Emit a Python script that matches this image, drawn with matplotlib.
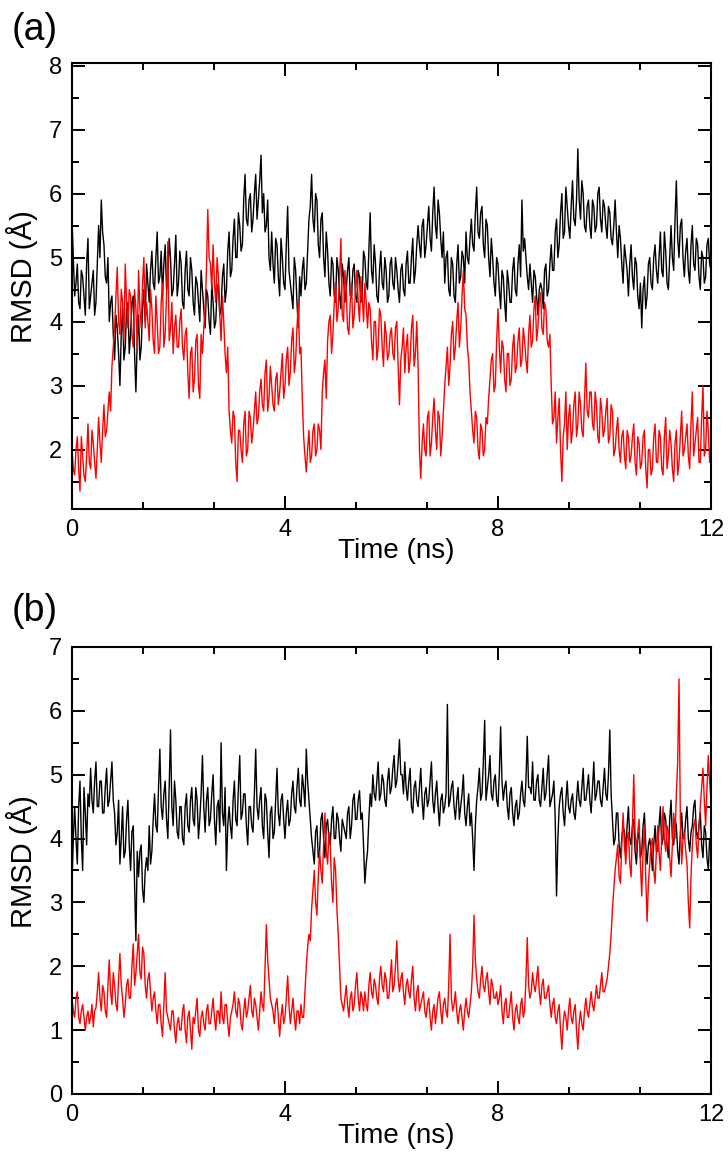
import numpy as np
import matplotlib
matplotlib.use("Agg")
import matplotlib.pyplot as plt
from matplotlib.ticker import MultipleLocator

plt.rcParams['font.family'] = ['Liberation Sans', 'DejaVu Sans']

# RMSD traces, one value every 0.05 ns (0 .. 12 ns)
a_black = [
    5.6, 4.4, 4.9, 4.2, 4.7, 4.1, 5.3, 4.4, 4.8, 4.3,
    5.5, 5.9, 5.2, 4.6, 4.0, 4.4, 3.4, 3.9, 3.0, 4.2,
    3.6, 4.3, 3.8, 4.4, 2.9, 4.1, 3.6, 4.5, 4.9, 4.3,
    5.1, 4.5, 5.4, 4.7, 4.4, 5.2, 4.6, 5.0, 4.5, 5.35,
    4.6, 4.9, 4.2, 5.1, 4.4, 4.8, 4.1, 4.6, 4.0, 4.5,
    3.9, 4.4, 3.8, 4.3, 4.0, 4.6, 4.2, 4.9, 4.5, 5.4,
    4.8, 5.6, 5.0, 5.5, 5.2, 6.3, 5.5, 6.0, 5.6, 6.3,
    5.9, 6.6, 6.0, 5.5, 5.0, 5.4, 4.6, 5.2, 4.4, 5.0,
    4.5, 5.8, 4.6, 4.2, 4.8, 3.9, 4.4, 5.0, 4.6, 5.6,
    6.3, 5.4, 5.9, 5.0, 5.7, 4.7, 5.1, 4.4, 4.9, 4.3,
    4.8, 4.2, 4.7, 4.5, 5.0, 4.4, 4.9, 4.3, 4.7, 4.4,
    5.0, 4.5, 5.7, 4.6, 4.9, 4.3, 5.1, 4.5, 4.8, 4.4,
    5.0, 4.5, 4.8, 4.3, 4.9, 4.4, 5.1, 4.6, 5.3, 4.8,
    5.5, 5.0, 5.6, 5.2, 5.8, 5.1, 6.1, 5.3, 5.7, 5.0,
    4.6, 5.1, 4.4, 4.9, 4.3, 5.2, 4.7, 5.0, 5.4, 4.9,
    5.6, 5.1, 6.1, 5.3, 5.8, 5.0, 5.5, 4.7, 5.0, 4.4,
    4.9, 4.2, 4.7, 4.0, 4.6, 4.3, 5.0, 4.4, 5.2, 5.9,
    5.3, 4.7, 4.9, 4.3, 4.7, 4.1, 4.6, 4.2, 4.9, 4.5,
    5.2, 4.8, 5.6, 5.2, 6.0, 5.4, 5.8, 5.3, 6.2, 5.5,
    6.7, 5.6, 6.0, 5.4, 5.9, 5.3, 5.8, 5.5, 6.1, 5.4,
    5.8, 5.3, 5.7, 5.2, 5.9, 5.0, 5.3, 4.6, 5.0, 4.4,
    5.2, 4.5, 4.9, 4.2, 3.9, 4.7, 4.4, 5.0, 4.5, 5.2,
    4.6, 5.4, 4.7, 5.1, 4.5, 5.5, 4.8, 6.2, 5.0, 5.6,
    4.7, 5.3, 4.6, 5.5, 4.8, 5.2, 4.5, 5.0, 4.7, 5.3,
    4.8,
]
# values in between (t = 0.025 + 0.05 k)
a_black_mid = [
    5.0, 4.6, 4.3, 4.8, 4.4, 4.9, 4.2, 4.6, 4.1, 4.9,
    5.0, 5.4, 4.7, 5.0, 4.3, 3.8, 4.1, 3.5, 3.8, 3.4,
    4.2, 3.5, 4.3, 3.5, 3.7, 3.4, 4.2, 4.0, 4.6, 4.8,
    4.6, 5.0, 4.6, 5.1, 4.9, 4.5, 5.3, 4.4, 4.9, 4.4,
    5.1, 4.3, 4.8, 4.5, 5.0, 4.3, 4.7, 4.3, 4.8, 4.2,
    4.5, 4.0, 4.6, 3.9, 4.5, 4.1, 4.7, 4.3, 5.1, 4.7,
    5.3, 5.0, 5.7, 5.1, 5.9, 5.6, 5.9, 5.4, 6.0, 5.6,
    6.2, 5.7, 5.4, 5.9, 4.8, 4.9, 5.3, 4.7, 5.3, 4.6,
    5.2, 4.8, 4.4, 5.0, 4.3, 4.7, 4.8, 4.5, 5.1, 5.8,
    5.6, 6.0, 5.2, 5.6, 5.0, 5.4, 4.6, 5.0, 4.4, 5.0,
    4.4, 4.9, 4.3, 4.8, 4.4, 4.8, 4.4, 4.8, 4.3, 5.1,
    4.6, 5.1, 4.8, 5.2, 4.4, 4.8, 4.6, 5.0, 4.3, 4.9,
    4.6, 5.0, 4.5, 4.8, 4.5, 4.9, 4.6, 5.0, 4.6, 5.2,
    5.2, 5.5, 5.0, 5.5, 5.3, 5.7, 5.5, 5.9, 5.3, 5.4,
    5.0, 4.5, 5.0, 4.4, 4.9, 4.6, 5.1, 4.6, 5.0, 5.3,
    5.2, 5.7, 5.4, 5.7, 5.2, 5.6, 5.0, 5.3, 4.6, 5.0,
    4.5, 4.8, 4.3, 4.8, 4.3, 4.8, 4.5, 4.9, 4.7, 5.1,
    5.0, 4.5, 4.6, 4.8, 4.4, 4.5, 4.5, 4.8, 4.4, 4.9,
    4.8, 5.4, 5.0, 5.7, 5.3, 6.1, 5.5, 5.8, 5.6, 5.9,
    5.9, 6.2, 5.5, 5.8, 5.5, 5.9, 5.4, 6.0, 5.6, 5.9,
    5.5, 5.8, 5.3, 5.5, 5.4, 5.5, 4.9, 5.2, 4.8, 4.9,
    4.7, 5.0, 4.4, 4.6, 4.5, 4.2, 4.9, 4.6, 5.0, 4.8,
    5.0, 4.8, 5.4, 4.6, 5.0, 5.0, 5.6, 5.3, 5.5, 5.0,
    5.1, 4.8, 5.2, 4.9, 5.3, 4.7, 5.1, 4.6, 5.2, 4.9,
]
a_red = [
    2.0, 1.6, 2.2, 1.35, 1.9, 1.5, 2.4, 1.7, 2.1, 1.55,
    2.5, 1.8, 2.7, 2.3, 2.9, 3.3, 3.9, 4.85, 3.8, 4.3,
    4.9, 3.9, 4.4, 3.6, 4.2, 4.8, 3.9, 5.0, 4.3, 3.7,
    4.2, 3.5, 4.0, 3.6, 4.6, 3.8, 5.25, 3.9, 3.5, 4.1,
    3.6, 4.2, 3.4, 3.9, 2.8, 3.6, 3.1, 3.8, 2.8, 3.5,
    4.2, 5.75, 4.9, 5.2, 4.3, 4.7, 3.7, 4.0, 3.2, 2.6,
    2.1, 2.5, 1.5, 2.3, 1.8, 2.6, 2.0, 2.5, 2.3, 2.9,
    2.5, 3.1, 2.6, 3.4, 2.8, 3.0, 2.6, 3.2, 2.9, 3.5,
    3.0, 3.6, 3.2, 3.9, 3.4, 4.3, 3.6, 2.2, 1.65, 2.3,
    1.9, 2.4, 2.0, 2.3, 2.9, 3.4, 3.7, 4.1, 3.8, 4.6,
    4.2, 5.3, 4.0, 4.5, 3.8, 4.6, 4.1, 4.8, 4.0, 4.4,
    4.6, 3.9, 4.2, 3.4, 4.0, 3.6, 4.1, 3.3, 3.8, 3.5,
    3.9, 3.4, 4.0, 2.7, 3.6, 3.2, 3.8, 3.4, 4.1, 3.5,
    3.3, 1.55, 2.4, 1.9, 2.6, 2.1, 2.8, 2.0, 2.5, 2.2,
    3.0, 3.6, 3.3, 4.0, 3.6, 4.3, 3.9, 4.8, 4.1, 3.4,
    2.6, 2.1, 2.5, 1.85, 2.3, 2.0, 2.4, 3.1, 3.5, 3.0,
    4.2, 3.2, 3.6, 2.9, 3.5, 3.1, 3.8, 3.3, 3.9, 3.4,
    3.7, 3.2, 4.1, 3.7, 4.4, 3.9, 4.45, 3.8, 4.2, 3.6,
    3.0, 2.5, 2.1, 2.8, 1.5, 2.4, 2.0, 2.7, 2.3, 2.9,
    2.4, 2.7, 2.2, 3.35, 2.5, 2.9, 2.3, 2.7, 2.1, 2.6,
    2.3, 2.8, 2.2, 2.6, 2.0, 2.5, 1.8, 2.3, 1.7, 2.2,
    1.9, 2.4, 1.6, 2.1, 1.8, 2.3, 1.4, 2.0, 1.7, 2.4,
    1.8, 2.2, 1.6, 2.5, 1.9, 2.1, 1.5, 2.3, 1.8, 2.6,
    2.0, 2.4, 1.7, 2.9, 2.1, 2.5, 1.8, 3.0, 2.0, 2.3,
    2.1,
]
a_red_mid = [
    1.7, 2.0, 1.7, 2.2, 1.6, 1.9, 1.8, 2.3, 1.8, 2.0,
    2.1, 2.3, 2.2, 2.6, 2.6, 3.6, 4.4, 4.0, 4.5, 3.7,
    4.3, 4.5, 3.8, 4.5, 3.6, 4.2, 4.6, 3.9, 4.0, 4.5,
    3.7, 4.4, 3.5, 4.3, 3.6, 4.4, 3.7, 4.3, 3.9, 3.6,
    4.0, 3.6, 3.8, 3.2, 3.5, 2.9, 3.7, 3.0, 3.8, 3.9,
    4.8, 5.0, 4.5, 4.6, 5.0, 4.1, 4.4, 3.5, 3.6, 2.3,
    2.6, 1.8, 2.3, 2.0, 2.4, 1.9, 2.6, 2.1, 2.6, 2.4,
    2.9, 2.7, 3.2, 2.6, 3.3, 2.7, 3.1, 2.7, 3.2, 2.8,
    3.4, 3.0, 3.7, 3.2, 3.9, 3.5, 2.8, 1.9, 2.0, 1.8,
    2.3, 1.9, 2.4, 2.0, 3.2, 2.8, 4.0, 3.5, 4.3, 4.0,
    4.7, 4.1, 4.8, 3.9, 4.3, 3.9, 4.5, 4.3, 4.7, 4.0,
    4.3, 4.3, 3.7, 4.0, 3.4, 4.2, 3.6, 4.0, 3.4, 3.8,
    3.5, 3.9, 3.3, 3.4, 3.9, 3.6, 3.2, 3.9, 3.3, 4.0,
    2.0, 2.1, 2.0, 2.5, 1.9, 2.5, 2.3, 2.6, 1.9, 2.6,
    3.3, 3.0, 3.8, 3.4, 4.0, 3.6, 4.4, 4.2, 3.6, 2.9,
    2.3, 2.6, 2.0, 2.4, 1.9, 2.5, 2.8, 3.4, 2.9, 3.7,
    3.6, 3.7, 3.1, 3.5, 3.0, 3.6, 3.2, 3.7, 3.3, 3.9,
    3.4, 3.8, 3.6, 4.2, 3.7, 4.3, 3.9, 4.3, 3.7, 3.8,
    2.4, 2.9, 2.5, 2.0, 2.2, 2.9, 2.5, 2.1, 2.7, 2.2,
    2.9, 2.3, 2.8, 2.6, 2.9, 2.4, 2.9, 2.2, 2.8, 2.2,
    2.6, 2.1, 2.7, 1.9, 2.3, 2.0, 2.2, 1.9, 2.3, 1.8,
    2.2, 1.8, 2.2, 1.7, 2.2, 1.7, 2.0, 1.6, 2.2, 1.8,
    2.3, 1.7, 2.2, 1.7, 2.3, 1.7, 2.1, 1.6, 2.2, 1.9,
    2.2, 1.9, 2.4, 1.9, 2.3, 1.8, 2.5, 1.9, 2.6, 1.8,
]
b_black = [
    3.3, 4.5, 3.6, 4.9, 3.5, 4.4, 4.7, 5.1, 4.4, 5.2,
    4.5, 4.9, 4.4, 5.1, 4.6, 5.2, 4.4, 4.1, 3.6, 4.5,
    3.8, 4.6, 3.5, 4.2, 2.4, 3.4, 3.9, 3.0, 3.7, 4.2,
    3.8, 4.7, 4.1, 5.4, 4.3, 4.9, 4.0, 5.7, 4.2, 4.6,
    4.0, 4.5, 3.9, 4.7, 4.1, 4.8, 4.2, 4.6, 4.3, 5.3,
    4.1, 4.8, 4.3, 5.0, 3.9, 4.6, 5.5, 4.2, 3.5, 4.5,
    4.0, 4.9, 4.2, 5.3, 4.4, 4.7, 3.9, 4.5, 4.1, 5.4,
    4.3, 4.8, 4.0, 4.6, 3.7, 4.5, 4.1, 5.1, 4.2, 4.7,
    4.0, 4.6, 4.3, 4.9, 4.4, 5.1, 4.5, 4.8, 5.4, 4.6,
    4.0, 3.6, 4.2, 3.8, 4.4, 3.7, 4.3, 3.9, 4.5, 4.0,
    4.3, 3.8, 4.2, 4.0, 4.5, 4.2, 4.7, 4.3, 4.75, 4.4,
    3.3, 3.8, 4.7, 5.0, 4.6, 5.2, 4.7, 4.9, 4.5, 5.1,
    4.8, 5.3, 4.9, 5.55, 5.0, 5.2, 4.6, 5.1, 4.4, 4.9,
    4.5, 5.1, 4.3, 4.8, 4.6, 5.2, 4.4, 4.9, 4.2, 4.7,
    4.5, 6.1, 4.6, 4.9, 4.3, 4.8, 4.5, 5.0, 4.2, 4.7,
    4.4, 3.5, 4.6, 5.1, 4.7, 5.85, 4.8, 5.3, 4.6, 5.0,
    4.5, 5.75, 4.6, 4.9, 4.3, 4.8, 4.2, 4.6, 4.4, 4.9,
    4.5, 5.6, 4.8, 5.2, 4.6, 5.0, 4.5, 5.1, 4.7, 5.3,
    4.6, 4.9, 3.1, 4.5, 4.8, 4.2, 4.9, 4.4, 4.7, 4.3,
    4.9, 4.5, 5.1, 4.6, 5.0, 4.4, 5.2, 4.7, 4.9, 4.5,
    5.1, 4.6, 5.7, 4.3, 4.0, 4.4, 3.7, 4.2, 3.8, 4.5,
    3.9, 4.3, 3.6, 4.1, 3.8, 4.4, 3.6, 4.0, 3.5, 4.2,
    3.8, 4.5, 4.0, 4.3, 3.7, 4.6, 3.9, 4.2, 3.6, 4.4,
    4.0, 4.5, 3.8, 4.2, 4.6, 4.0, 4.4, 3.7, 4.1, 3.5,
    3.8,
]
b_black_mid = [
    4.0, 4.0, 4.5, 4.0, 4.8, 3.9, 4.5, 4.6, 4.9, 4.5,
    4.9, 4.4, 4.8, 4.5, 4.9, 4.6, 3.9, 4.6, 4.0, 3.7,
    4.3, 3.9, 4.1, 3.3, 3.8, 3.8, 3.2, 3.5, 3.5, 3.6,
    4.3, 4.2, 4.8, 4.5, 4.7, 4.3, 4.8, 4.5, 4.9, 4.1,
    4.5, 4.0, 4.5, 4.2, 4.6, 4.3, 4.8, 4.0, 4.7, 4.5,
    4.6, 4.2, 4.7, 4.3, 4.5, 4.1, 4.4, 4.8, 4.2, 4.2,
    4.6, 4.3, 4.8, 4.3, 4.7, 4.2, 4.5, 4.2, 4.7, 4.5,
    4.6, 4.2, 4.7, 4.1, 4.4, 4.0, 4.6, 4.4, 4.6, 4.3,
    4.4, 4.2, 4.7, 4.5, 4.8, 4.6, 5.0, 4.5, 4.9, 4.3,
    3.8, 4.1, 3.7, 4.3, 4.0, 4.2, 4.0, 4.3, 4.0, 4.4,
    4.0, 4.3, 4.1, 4.4, 4.0, 4.6, 4.3, 4.6, 4.3, 3.9,
    3.6, 4.3, 4.5, 4.7, 4.9, 4.6, 5.0, 4.6, 4.9, 4.7,
    5.1, 4.8, 5.2, 5.0, 4.7, 4.8, 4.9, 4.5, 4.8, 4.6,
    4.8, 4.6, 4.7, 4.5, 4.9, 4.6, 4.7, 4.5, 4.6, 4.4,
    4.7, 4.5, 4.8, 4.5, 4.6, 4.3, 4.7, 4.4, 4.5, 4.2,
    4.0, 4.2, 4.8, 4.6, 5.2, 4.6, 5.0, 4.7, 4.9, 4.6,
    5.0, 4.9, 4.8, 4.5, 4.7, 4.4, 4.5, 4.3, 4.7, 4.6,
    4.9, 4.8, 4.7, 4.6, 4.9, 4.6, 4.8, 4.6, 5.0, 4.5,
    4.7, 4.3, 4.0, 4.7, 4.4, 4.6, 4.5, 4.6, 4.4, 4.6,
    4.6, 4.8, 4.6, 4.8, 4.6, 4.8, 4.6, 4.9, 4.6, 4.8,
    4.7, 5.0, 4.7, 3.9, 4.4, 3.9, 4.0, 4.1, 4.2, 4.0,
    4.2, 3.8, 4.0, 3.7, 4.2, 3.9, 3.9, 3.8, 3.9, 3.8,
    4.2, 3.9, 4.4, 3.9, 4.3, 4.0, 4.3, 3.8, 4.1, 4.0,
    4.3, 4.0, 4.1, 4.5, 4.1, 4.2, 3.9, 4.2, 3.7, 4.0,
]
b_red = [
    1.5, 1.2, 1.6, 1.1, 1.4, 1.0, 1.3, 1.2, 1.05, 1.35,
    1.9, 1.3, 1.6, 1.2, 2.1, 1.4, 1.7, 1.3, 2.2, 1.5,
    1.4, 1.8, 1.5, 2.35, 1.9, 2.5, 1.8, 2.2, 1.5, 1.9,
    1.3, 1.6, 1.1, 1.4, 0.9, 1.9, 1.2, 1.0, 1.3, 0.8,
    1.2, 1.0, 1.4, 0.8, 1.3, 0.7, 1.1, 1.5, 0.9, 1.3,
    1.0, 1.4, 1.1, 1.5, 1.0, 1.3, 1.6, 1.1, 1.4, 0.9,
    1.3, 1.6, 1.2, 1.4, 1.0, 1.5, 1.3, 1.7, 1.2, 1.4,
    1.0, 1.6, 1.3, 2.65, 1.8, 1.4, 1.1, 1.5, 0.9, 1.4,
    1.2, 1.85, 1.1, 1.5, 1.0, 1.3, 1.4, 1.2, 2.0, 2.5,
    2.9, 3.5, 2.8, 3.8, 3.3, 4.4, 3.6, 3.9, 3.0, 3.5,
    2.5, 1.5, 1.3, 1.7, 1.2, 1.6, 1.4, 1.9, 1.3, 1.5,
    1.6, 1.3, 1.9, 1.5, 1.7, 1.4, 2.0, 1.6, 1.8, 1.5,
    2.1, 1.7, 2.4, 1.6, 1.9, 1.4, 1.8, 1.5, 2.0, 1.3,
    1.7, 1.4, 1.6, 1.2, 1.5, 1.0, 1.4, 1.3, 1.6, 1.1,
    1.5, 1.2, 2.5, 1.3, 1.6, 1.1, 1.4, 1.0, 1.5, 1.2,
    1.6, 2.8, 1.8, 1.5, 2.0, 1.6, 1.9, 1.4, 1.7, 1.5,
    1.4, 1.7, 1.1, 1.5, 1.2, 1.6, 1.0, 1.4, 1.1, 1.5,
    1.3, 2.45, 1.5, 1.9, 1.6, 2.0, 1.4, 1.8, 1.5, 1.7,
    1.2, 1.5, 1.1, 1.4, 0.7, 1.3, 1.0, 1.5, 1.1, 1.4,
    0.7, 1.3, 1.0, 1.5, 1.2, 1.6, 1.3, 1.7, 1.5, 1.9,
    1.6, 1.8, 2.2, 2.9, 3.5, 3.9, 3.3, 4.4, 3.6, 4.1,
    3.4, 5.0, 3.8, 4.3, 3.1, 4.2, 2.7, 3.6, 4.0, 3.3,
    4.2, 3.5, 4.5, 3.8, 4.1, 3.4, 4.4, 4.7, 6.5, 3.6,
    4.1, 3.6, 2.6, 3.9, 4.3, 3.7, 4.5, 5.1, 4.2, 5.3,
    4.6,
]
b_red_mid = [
    1.3, 1.5, 1.2, 1.3, 1.2, 1.2, 1.1, 1.4, 1.3, 1.6,
    1.5, 1.7, 1.3, 1.7, 1.6, 1.9, 1.4, 1.8, 1.7, 1.2,
    1.7, 1.5, 2.0, 1.7, 2.2, 1.9, 2.3, 1.7, 1.8, 1.6,
    1.5, 1.3, 1.4, 1.1, 1.4, 1.3, 1.1, 1.3, 1.0, 1.1,
    1.0, 1.3, 1.0, 1.2, 1.0, 1.2, 1.3, 1.0, 1.2, 1.1,
    1.3, 1.1, 1.3, 1.2, 1.3, 1.1, 1.2, 1.4, 1.1, 1.2,
    1.4, 1.3, 1.5, 1.1, 1.3, 1.2, 1.5, 1.3, 1.5, 1.2,
    1.3, 1.4, 2.0, 2.1, 1.5, 1.3, 1.4, 1.2, 1.2, 1.1,
    1.5, 1.4, 1.3, 1.2, 1.3, 1.1, 1.2, 1.6, 2.3, 2.4,
    3.2, 3.0, 3.4, 3.5, 3.9, 3.8, 4.1, 3.3, 3.7, 2.9,
    2.0, 1.4, 1.5, 1.4, 1.5, 1.3, 1.7, 1.5, 1.6, 1.3,
    1.4, 1.7, 1.6, 1.8, 1.5, 1.8, 1.7, 1.9, 1.5, 1.8,
    1.6, 2.0, 1.8, 1.8, 1.6, 1.7, 1.6, 1.8, 1.5, 1.6,
    1.3, 1.5, 1.3, 1.4, 1.2, 1.3, 1.1, 1.5, 1.3, 1.4,
    1.3, 1.7, 1.5, 1.4, 1.3, 1.3, 1.2, 1.3, 1.3, 1.4,
    2.0, 2.1, 1.6, 1.8, 1.7, 1.8, 1.6, 1.8, 1.5, 1.6,
    1.5, 1.3, 1.4, 1.2, 1.4, 1.2, 1.3, 1.2, 1.4, 1.2,
    1.8, 1.7, 1.6, 1.7, 1.8, 1.6, 1.7, 1.5, 1.6, 1.4,
    1.4, 1.2, 1.3, 1.0, 1.1, 1.2, 1.3, 1.2, 1.3, 1.0,
    1.1, 1.1, 1.3, 1.3, 1.4, 1.4, 1.5, 1.5, 1.7, 1.6,
    1.7, 2.0, 2.5, 3.2, 3.7, 3.4, 3.9, 3.9, 4.0, 3.6,
    4.2, 4.1, 4.1, 3.6, 3.8, 3.4, 3.3, 3.9, 3.5, 3.8,
    3.8, 4.0, 4.0, 4.2, 3.7, 3.9, 4.0, 5.2, 4.3, 4.0,
    3.8, 3.0, 3.4, 4.2, 3.9, 4.2, 4.8, 4.6, 4.8, 4.9,
]

x_ticks = [0, 4, 8, 12]


def merge(main, mid):
    # interleave samples: main at 0.05 k, mid at 0.05 k + 0.025
    y = np.empty(len(main) + len(mid))
    y[0::2] = main
    y[1::2] = mid
    return np.linspace(0, 12, len(y)), y


def style_axes(ax, ylim, yticks):
    ax.set_xlim(0, 12)
    ax.set_ylim(*ylim)
    ax.set_xticks(x_ticks)
    ax.xaxis.set_minor_locator(MultipleLocator(4 / 3))
    ax.set_yticks(yticks)
    ax.yaxis.set_minor_locator(MultipleLocator(0.5))
    ax.tick_params(which='both', direction='in', top=True, right=True,
                   width=1.4, labelsize=17, pad=7)
    ax.tick_params(which='major', length=9.5)
    ax.tick_params(which='minor', length=5)
    for s in ax.spines.values():
        s.set_linewidth(1.5)
    ax.set_xlabel('Time (ns)', fontsize=20, va='center')
    ax.set_ylabel('RMSD (Å)', fontsize=21, va='center')
    ax.xaxis.set_label_coords(0.507, -0.094)
    ax.yaxis.set_label_coords(-0.078, 0.52)


fig = plt.figure(figsize=(7.28, 11.59), dpi=100)

ax1 = fig.add_axes([0.0989, 0.5608, 0.8777, 0.3848])
ax1.plot(*merge(a_black, a_black_mid), color='black', lw=1.0)
ax1.plot(*merge(a_red, a_red_mid), color='red', lw=1.0)
style_axes(ax1, (1.07, 8.04), range(2, 9))

ax2 = fig.add_axes([0.0989, 0.0561, 0.8777, 0.3857])
ax2.plot(*merge(b_black, b_black_mid), color='black', lw=1.0)
ax2.plot(*merge(b_red, b_red_mid), color='red', lw=1.0)
style_axes(ax2, (0, 7), range(0, 8))

fig.text(12 / 728, 1 - 30 / 1159, '(a)', fontsize=27, va='center')
fig.text(12 / 728, 1 - 611 / 1159, '(b)', fontsize=27, va='center')

fig.savefig('out.png', dpi=100)
